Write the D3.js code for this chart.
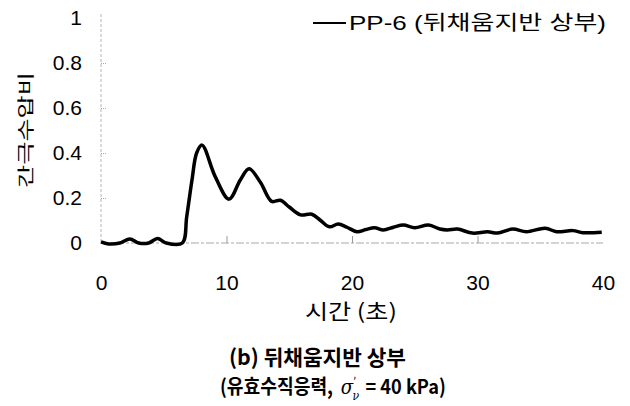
<!DOCTYPE html>
<html>
<head>
<meta charset="utf-8">
<script src="https://cdn.jsdelivr.net/npm/d3@7/dist/d3.min.js"></script>
<style>
  html, body { margin: 0; padding: 0; background: #fff; }
  svg { display: block; }
  text { font-family: "Liberation Sans", "Noto Sans CJK KR", sans-serif; fill: #000; }
  .kr { font-family: "Noto Sans CJK KR", "Liberation Sans", sans-serif; }
</style>
</head>
<body>
<svg id="chart" width="630" height="406"></svg>
<script>
// Pore pressure ratio record, PP-6 (upper backfill)
const timeSec = [0, 0.6, 1.5, 2.3, 3.0, 3.8, 4.5, 5.2, 6.48, 6.83, 7.25, 7.62, 8.05, 9.1, 10.2, 11.1, 11.8, 12.7, 13.6, 14.3, 15.0, 15.9, 16.8, 17.5, 18.2, 18.9, 19.6, 20.4, 21.1, 21.8, 22.5, 23.3, 24.1, 25.0, 26.1, 27.0, 27.6, 28.4, 29.6, 30.8, 31.6, 32.8, 33.9, 35.4, 36.3, 37.6, 38.4, 39.9];
const ratio   = [0.005, -0.004, 0.0, 0.018, 0.0, 0.0, 0.02, 0.0, 0.0, 0.117, 0.28, 0.40, 0.435, 0.295, 0.195, 0.28, 0.33, 0.27, 0.185, 0.19, 0.16, 0.125, 0.128, 0.10, 0.072, 0.084, 0.07, 0.05, 0.06, 0.068, 0.058, 0.07, 0.08, 0.068, 0.08, 0.062, 0.058, 0.062, 0.044, 0.05, 0.044, 0.062, 0.05, 0.066, 0.05, 0.055, 0.046, 0.048];

const xTicks = [0, 10, 20, 30, 40];
const yTicks = [0, 0.2, 0.4, 0.6, 0.8, 1];
const yTickLabels = ["0", "0.2", "0.4", "0.6", "0.8", "1"];

const seriesName = "PP-6 (뒤채움지반 상부)";
const xTitle = "시간 (초)";
const yTitle = "간극수압비";
const caption1 = "(b) 뒤채움지반 상부";

const svg = d3.select("#chart");
const plotLeft = 101, plotRight = 603, plotTop = 18, plotBottom = 243;

const x = d3.scaleLinear().domain([0, 40]).range([plotLeft, plotRight]);
const y = d3.scaleLinear().domain([0, 1]).range([plotBottom, plotTop]);

// faint frame lines (left and bottom)
svg.append("line")
  .attr("x1", plotLeft).attr("x2", plotLeft).attr("y1", 14).attr("y2", plotBottom)
  .attr("stroke", "#b5b5b5").attr("stroke-width", 1).attr("stroke-dasharray", "3,2");
svg.append("line")
  .attr("x1", plotLeft).attr("x2", plotRight).attr("y1", plotBottom).attr("y2", plotBottom)
  .attr("stroke", "#a8a8a8").attr("stroke-width", 1.2).attr("stroke-dasharray", "8,2,3,2");

// x axis: inward ticks, labels below
const xAxis = d3.axisBottom(x).tickValues(xTicks).tickSize(-7).tickPadding(40)
  .tickFormat(d3.format("d"));
const gx = svg.append("g").attr("transform", `translate(0,${plotBottom})`).call(xAxis);
gx.select(".domain").remove();
gx.selectAll(".tick line").attr("stroke", "#999").attr("stroke-width", 1)
  .filter(d => d === 0 || d === 40).remove();
gx.selectAll(".tick text").attr("font-size", 21).attr("fill", "#000")
  .attr("font-family", "Liberation Sans, sans-serif").attr("dy", "0.35em");

// y axis: inward ticks, labels at left
const yAxis = d3.axisLeft(y).tickValues(yTicks).tickSize(-6).tickPadding(19)
  .tickFormat((d, i) => yTickLabels[i]);
const gy = svg.append("g").attr("transform", `translate(${plotLeft},0)`).call(yAxis);
gy.select(".domain").remove();
gy.selectAll(".tick line").attr("stroke", "#aaa").attr("stroke-width", 1)
  .attr("stroke-dasharray", "1,1")
  .filter(d => d === 0 || d === 1).remove();
gy.selectAll(".tick text").attr("font-size", 21).attr("fill", "#000")
  .attr("font-family", "Liberation Sans, sans-serif");

// data line
const pts = timeSec.map((t, i) => [t, ratio[i]]);
const line = d3.line().x(d => x(d[0])).y(d => y(d[1])).curve(d3.curveCatmullRom.alpha(0.5));
svg.append("path").datum(pts)
  .attr("d", line).attr("fill", "none")
  .attr("stroke", "#000").attr("stroke-width", 3.5).attr("stroke-linejoin", "round");

// legend
svg.append("line").attr("x1", 313).attr("x2", 346).attr("y1", 23).attr("y2", 23)
  .attr("stroke", "#000").attr("stroke-width", 2);
svg.append("text").attr("x", 349).attr("y", 30).attr("font-size", 20)
  .attr("textLength", 257).attr("lengthAdjust", "spacingAndGlyphs")
  .text(seriesName);

// axis titles
svg.append("text").attr("class", "kr")
  .attr("transform", "translate(26,130) rotate(-90)")
  .attr("text-anchor", "middle").attr("dy", "0.35em")
  .attr("font-size", 17).attr("textLength", 116).attr("lengthAdjust", "spacingAndGlyphs")
  .text(yTitle);
svg.append("text").attr("class", "kr").attr("x", 351).attr("y", 312)
  .attr("text-anchor", "middle").attr("dy", "0.35em").attr("font-size", 21)
  .attr("textLength", 92).attr("lengthAdjust", "spacingAndGlyphs")
  .text(xTitle);

// caption, two lines
svg.append("text").attr("class", "kr").attr("x", 229).attr("y", 358)
  .attr("dy", "0.35em").attr("font-size", 21)
  .attr("font-weight", "bold").attr("textLength", 177).attr("lengthAdjust", "spacingAndGlyphs")
  .text(caption1);

const cap2 = svg.append("text").attr("class", "kr")
  .attr("dy", "0.35em").attr("font-size", 20).attr("font-weight", "bold");
cap2.append("tspan").text("(유효수직응력, ");
cap2.append("tspan").attr("font-family", "DejaVu Serif, serif").attr("font-style", "italic")
  .attr("font-weight", "normal").attr("dx", 4).text("σ");
cap2.append("tspan").attr("font-size", 12).attr("dy", -8).attr("font-weight", "normal").text("′");
cap2.append("tspan").attr("font-family", "DejaVu Serif, serif").attr("font-style", "italic")
  .attr("font-size", 12).attr("font-weight", "normal").attr("dx", -4).attr("dy", 14).text("ν");
cap2.append("tspan").attr("dy", -6).attr("dx", 7).text("= 40 kPa)");
// fit second caption line into its span (x 220 .. 446)
const bb = cap2.node().getBBox();
const sx = 226 / bb.width;
cap2.attr("transform", `translate(${220 - bb.x * sx},387) scale(${sx},1)`);
</script>
</body>
</html>
